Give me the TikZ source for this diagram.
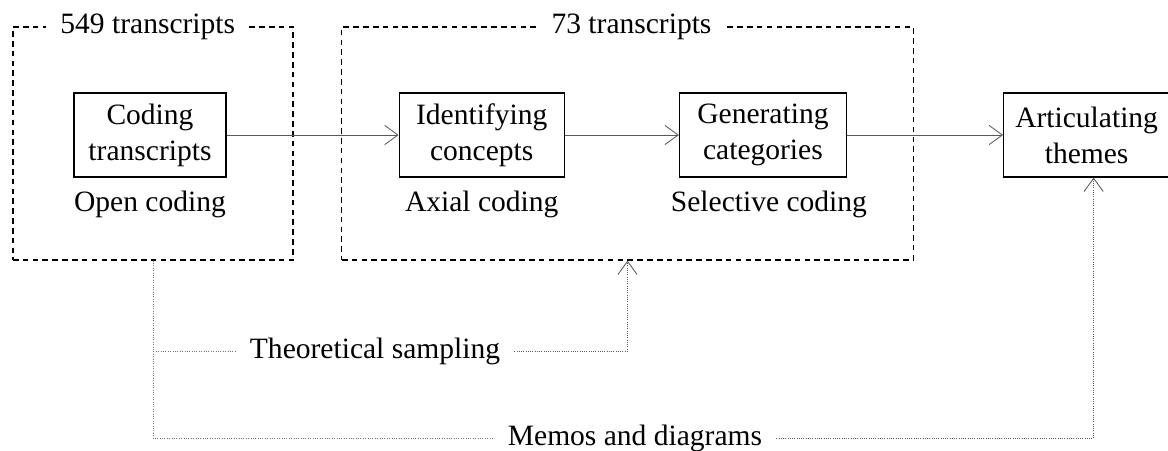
\documentclass[tikz,border=0pt]{standalone}
\usepackage{fontspec}
\setmainfont{Liberation Serif}
\usetikzlibrary{positioning,arrows.meta}

\begin{document}
\begin{tikzpicture}[
    x=0.025cm, y=-0.025cm,
    font=\fontsize{21}{25.5}\selectfont,
    stepbox/.style={rectangle, draw, line width=0.8pt, text centered, align=center, minimum height=2.1cm, inner sep=2pt},
    group/.style={rectangle, draw, dash pattern=on 4pt off 3pt, line width=0.8pt, minimum height=5.825cm},
    tag/.style={fill=white, inner xsep=0.35cm, inner ysep=1pt},
    arrow/.style={-{Straight Barb[length=3.3mm, width=4.8mm]}, draw=black!65, line width=0.6pt},
    feedback/.style={densely dotted, draw=black!55, line width=0.7pt}
]
    \useasboundingbox (0,0) rectangle (1168,450);

    % dashed groups
    \node[group, minimum width=7cm] (grpA) at (153,143.5) {};
    \node[group, minimum width=14.275cm] (grpB) at (627.5,143.5) {};
    \node[tag, xshift=-0.13cm] (nA) at (grpA.north) {549 transcripts};
    \node[tag, xshift=0.1cm] (nB) at (grpB.north) {73 transcripts};

    % main steps
    \node[stepbox, minimum width=3.8cm] (cod) at (150,135) {Coding\\transcripts};
    \node[stepbox, minimum width=4.125cm, right=4.3cm of cod] (ident) {Identifying\\concepts};
    \node[stepbox, minimum width=4.175cm, right=2.85cm of ident] (gen) {Generating\\categories};
    \node[stepbox, minimum width=4.15cm, right=3.9cm of gen] (theme) {Articulating\\themes};

    \node[below=0.2cm of cod] (l1) {Open coding};
    \node[below=0.2cm of ident] (l2) {Axial coding};
    \node[below=0.2cm of gen, xshift=0.15cm] (l3) {Selective coding};

    \draw[arrow] (cod) -- (ident);
    \draw[arrow] (ident) -- (gen);
    \draw[arrow] (gen) -- (theme);

    % feedback loops
    \node[tag] (theo) at (375,351) {Theoretical sampling};
    \node[tag] (memo) at (635,438) {Memos and diagrams};
    \coordinate (t1) at ([xshift=0.175cm]theme.south);

    \draw[feedback] (grpA.south) |- (theo.west);
    \draw[feedback, arrow, densely dotted] (theo.east) -| (grpB.south);
    \draw[feedback] (grpA.south) |- (memo.west);
    \draw[feedback, arrow, densely dotted] (memo.east) -| (t1);
\end{tikzpicture}
\end{document}
